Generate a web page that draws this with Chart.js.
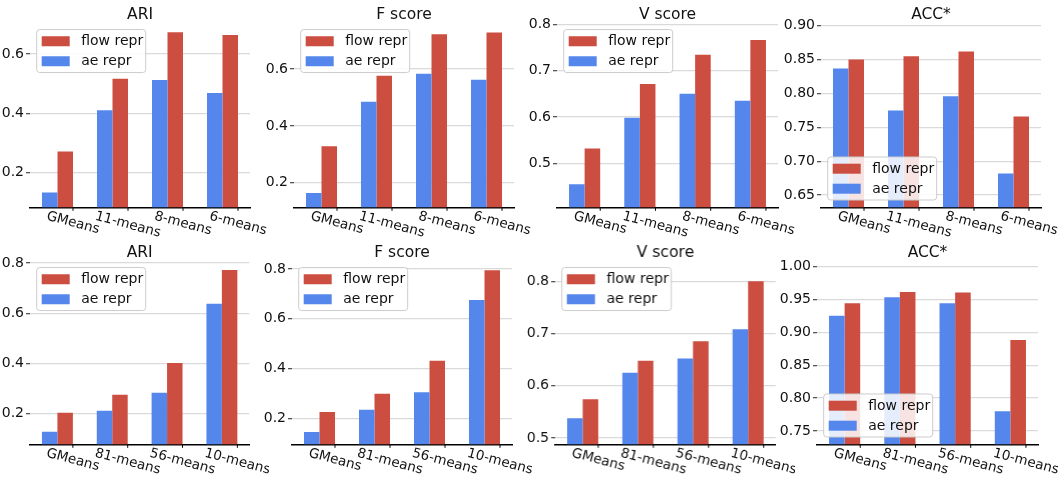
<!DOCTYPE html>
<html>
<head>
<meta charset="utf-8">
<script src="https://cdn.jsdelivr.net/npm/chart.js@4.4.0/dist/chart.umd.min.js"></script>
<style>
  body { margin:0; background:#fff; width:1060px; height:477px; overflow:hidden; position:relative; }
  .panel { position:absolute; }
</style>
</head>
<body>

<div class="panel" id="p0"><canvas id="c0"></canvas></div>
<div class="panel" id="p1"><canvas id="c1"></canvas></div>
<div class="panel" id="p2"><canvas id="c2"></canvas></div>
<div class="panel" id="p3"><canvas id="c3"></canvas></div>
<div class="panel" id="p4"><canvas id="c4"></canvas></div>
<div class="panel" id="p5"><canvas id="c5"></canvas></div>
<div class="panel" id="p6"><canvas id="c6"></canvas></div>
<div class="panel" id="p7"><canvas id="c7"></canvas></div>

<script>
// DATA
const seriesLabels = ['ae repr', 'flow repr'];
const titles = ['ARI', 'F score', 'V score', 'ACC*'];

const topCategories = ['GMeans', '11-means', '8-means', '6-means'];
const bottomCategories = ['GMeans', '81-means', '56-means', '10-means'];

const ariTopAe = [0.133, 0.410, 0.512, 0.468];
const ariTopFlow = [0.271, 0.516, 0.673, 0.664];
const fTopAe = [0.164, 0.485, 0.583, 0.562];
const fTopFlow = [0.329, 0.576, 0.722, 0.728];
const vTopAe = [0.455, 0.598, 0.650, 0.635];
const vTopFlow = [0.532, 0.671, 0.734, 0.766];
const accTopAe = [0.837, 0.775, 0.796, 0.682];
const accTopFlow = [0.850, 0.855, 0.862, 0.766];

const ariBotAe = [0.128, 0.212, 0.283, 0.637];
const ariBotFlow = [0.204, 0.275, 0.402, 0.772];
const fBotAe = [0.145, 0.234, 0.305, 0.676];
const fBotFlow = [0.225, 0.298, 0.431, 0.796];
const vBotAe = [0.538, 0.625, 0.652, 0.708];
const vBotFlow = [0.574, 0.648, 0.685, 0.800];
const accBotAe = [0.925, 0.953, 0.944, 0.780];
const accBotFlow = [0.944, 0.961, 0.960, 0.888];

const ticksTopAri = [0.2, 0.4, 0.6];
const ticksTopF = [0.2, 0.4, 0.6];
const ticksTopV = [0.5, 0.6, 0.7, 0.8];
const ticksTopAcc = [0.65, 0.70, 0.75, 0.80, 0.85, 0.90];
const ticksBotAri = [0.2, 0.4, 0.6, 0.8];
const ticksBotF = [0.2, 0.4, 0.6, 0.8];
const ticksBotV = [0.5, 0.6, 0.7, 0.8];
const ticksBotAcc = [0.75, 0.80, 0.85, 0.90, 0.95, 1.00];

const blue = '#5586EB';
const red = '#CB4E41';
const ink = '#111';

Chart.defaults.font.family = 'DejaVu Sans';
Chart.defaults.color = ink;

// axes boxes [left, right] per panel, rows share top/bottom
const axesX = [
  [30, 250], [294.3, 514.3], [557.3, 778.3], [820.7, 1040.7],
  [30, 249.3], [292.3, 512.3], [555.3, 775], [817.3, 1038.3]
];
const rowTop = [0, 238];
const rowHeight = [238, 239];
const rowAxisBottom = [207.3, 206.3];
const padLeft = 40;
const padRight = 20;
const catPct = 0.564;

const xLabels = {
  id: 'xLabels',
  afterDraw(chart) {
    const ctx = chart.ctx;
    const xs = chart.scales.x;
    const bottom = chart.chartArea.bottom;
    const catW = (chart.chartArea.right - chart.chartArea.left) / chart.data.labels.length;
    const off = catW * catPct / 2;
    const ang = 15 * Math.PI / 180;
    ctx.save();
    ctx.font = '13.5px "DejaVu Sans"';
    ctx.fillStyle = ink;
    ctx.strokeStyle = '#000';
    ctx.lineWidth = 1;
    chart.data.labels.forEach((lab, i) => {
      const x = xs.getPixelForValue(i) + off;
      ctx.beginPath();
      ctx.moveTo(x, bottom);
      ctx.lineTo(x, bottom + 3.5);
      ctx.stroke();
      const w = ctx.measureText(lab).width;
      const cy = bottom + 8.7 + w * Math.sin(ang) / 2;
      ctx.save();
      ctx.translate(x, cy);
      ctx.rotate(ang);
      ctx.textAlign = 'center';
      ctx.textBaseline = 'middle';
      ctx.fillText(lab, 0, 0);
      ctx.restore();
    });
    ctx.restore();
  }
};

const boxLegend = {
  id: 'boxLegend',
  afterDraw(chart, args, opts) {
    const ctx = chart.ctx;
    const a = chart.chartArea;
    const bw = 109, bh = 43;
    const bx = a.left + 6.7;
    const by = opts.where === 'lower' ? a.bottom - 7.3 - bh : a.top + 7.3;
    ctx.save();
    ctx.beginPath();
    ctx.roundRect(bx, by, bw, bh, 3);
    ctx.fillStyle = 'rgba(255,255,255,0.85)';
    ctx.fill();
    ctx.strokeStyle = '#cccccc';
    ctx.lineWidth = 1;
    ctx.stroke();
    ctx.font = '14px "DejaVu Sans"';
    ctx.textBaseline = 'middle';
    const items = chart.data.datasets.slice().reverse();
    items.forEach((ds, k) => {
      const yy = by + 6.7 + k * 20;
      ctx.fillStyle = ds.backgroundColor;
      ctx.fillRect(bx + 5, yy, 28, 10);
      ctx.fillStyle = ink;
      ctx.fillText(ds.label, bx + 44.5, yy + 5.5);
    });
    ctx.restore();
  }
};

function CreatePanel(idx, categories, aeData, flowData, title, tickVals, decimals, legendWhere) {
  const row = idx < 4 ? 0 : 1;
  const [ax0, ax1] = axesX[idx];
  const panel = document.getElementById('p' + idx);
  panel.style.left = (ax0 - padLeft) + 'px';
  panel.style.top = rowTop[row] + 'px';
  panel.style.width = (ax1 - ax0 + padLeft + padRight) + 'px';
  panel.style.height = rowHeight[row] + 'px';

  const all = aeData.concat(flowData);
  const yMin = Math.min(...all) - 0.05;
  const yMax = Math.max(...all) * 1.05;
  const xAxisH = rowHeight[row] - rowAxisBottom[row];

  const Config = {
    type: 'bar',
    data: {
      labels: categories,
      datasets: [
        { label: seriesLabels[0], data: aeData, backgroundColor: blue },
        { label: seriesLabels[1], data: flowData, backgroundColor: red }
      ]
    },
    plugins: [xLabels, boxLegend],
    options: {
      responsive: true,
      maintainAspectRatio: false,
      animation: false,
      categoryPercentage: catPct,
      barPercentage: 1.0,
      layout: { padding: { left: 0, right: padRight, top: 0, bottom: 0 } },
      scales: {
        x: {
          type: 'category',
          offset: true,
          grid: { display: false },
          ticks: { display: false },
          border: { display: true, color: '#000', width: 1.5 },
          afterFit: (s) => { s.height = xAxisH; }
        },
        y: {
          min: yMin,
          max: yMax,
          afterBuildTicks: (s) => { s.ticks = tickVals.map(v => ({ value: v })); },
          ticks: {
            font: { size: 14 },
            color: ink,
            padding: 2,
            callback: (v) => Number(v).toFixed(decimals)
          },
          grid: { color: '#dadada', lineWidth: 1.3, tickColor: '#555', tickLength: 4, drawTicks: true },
          border: { display: false },
          afterFit: (s) => { s.width = padLeft; }
        }
      },
      plugins: {
        legend: { display: false },
        tooltip: { enabled: false },
        title: {
          display: true,
          text: title,
          fullSize: false,
          color: ink,
          font: { size: 15.5, weight: 'normal', lineHeight: 1 },
          padding: { top: 6.75, bottom: 0 }
        },
        boxLegend: { where: legendWhere }
      }
    }
  };
  return new Chart(document.getElementById('c' + idx), Config);
}

CreatePanel(0, topCategories, ariTopAe, ariTopFlow, titles[0], ticksTopAri, 1, 'upper');
CreatePanel(1, topCategories, fTopAe, fTopFlow, titles[1], ticksTopF, 1, 'upper');
CreatePanel(2, topCategories, vTopAe, vTopFlow, titles[2], ticksTopV, 1, 'upper');
CreatePanel(3, topCategories, accTopAe, accTopFlow, titles[3], ticksTopAcc, 2, 'lower');
CreatePanel(4, bottomCategories, ariBotAe, ariBotFlow, titles[0], ticksBotAri, 1, 'upper');
CreatePanel(5, bottomCategories, fBotAe, fBotFlow, titles[1], ticksBotF, 1, 'upper');
CreatePanel(6, bottomCategories, vBotAe, vBotFlow, titles[2], ticksBotV, 1, 'upper');
CreatePanel(7, bottomCategories, accBotAe, accBotFlow, titles[3], ticksBotAcc, 2, 'lower');
</script>
</body>
</html>
